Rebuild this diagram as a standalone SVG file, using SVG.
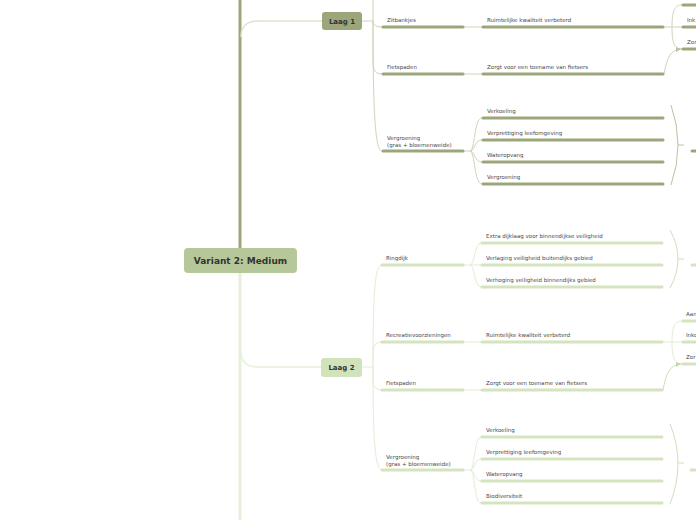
<svg xmlns="http://www.w3.org/2000/svg" width="696" height="520" viewBox="0 0 696 520">
<defs>
<style>
.t{font-family:"DejaVu Sans","Liberation Sans",sans-serif;font-size:5.5px;fill:#4a4a4a}
.h{font-family:"DejaVu Sans","Liberation Sans",sans-serif;font-weight:bold;fill:#333;text-anchor:middle}
.u1{stroke:#9ba77b;stroke-width:3;stroke-linecap:round;fill:none}
.u2{stroke:#d4e4bf;stroke-width:3;stroke-linecap:round;fill:none}
.c1{stroke:#cdd5bb;stroke-width:1;fill:none}
.c2{stroke:#e2edd4;stroke-width:1;fill:none}
.b1{stroke:#b8c49c;stroke-width:1;fill:none}
.b2{stroke:#cfe0b8;stroke-width:1;fill:none}
</style>
<marker id="a1" markerWidth="6" markerHeight="6" refX="5" refY="3" orient="auto" markerUnits="userSpaceOnUse"><path d="M0,0.5 L5,3 L0,5.5 Z" fill="#b8c49c"/></marker>
<marker id="a2" markerWidth="6" markerHeight="6" refX="5" refY="3" orient="auto" markerUnits="userSpaceOnUse"><path d="M0,0.5 L5,3 L0,5.5 Z" fill="#c4d8a8"/></marker>
</defs>
<rect width="696" height="520" fill="#fff"/>

<g id="connectors">
<!-- trunk -->
<line x1="240" y1="0" x2="240" y2="249" stroke="#9ba77b" stroke-width="3"/>
<line x1="240" y1="272" x2="240" y2="520" stroke="#e6f0da" stroke-width="3"/>
<path d="M241,37 Q241,21 258,21 L322,21" stroke="#dde4cf" stroke-width="1.5" fill="none"/>
<path d="M241,351 Q241,367 258,367 L321,367" stroke="#e6f0da" stroke-width="1.5" fill="none"/>

<!-- Laag 1 -->
<path class="c1" d="M362,21 L373,21"/>
<path class="c1" d="M373,0 L373,21"/>
<path class="c1" d="M373,21 Q373,27 382,27"/>
<path class="c1" d="M373,21 L373,64 Q373,74 382,74"/>
<path class="c1" d="M373,21 C373,110 375,151 382,151"/>
<path class="c1" d="M464,27 L482,27"/>
<path class="c1" d="M464,74 L482,74"/>
<path class="c1" d="M664,27 L672,27"/>
<path class="c1" d="M672,27 C672,10 675,5 682,5"/>
<path class="c1" d="M672,27 L682,27"/>
<path class="c1" d="M672,27 C672,44 675,49 682,49"/>
<path class="c1" d="M664,74 C667,58 670,50 681,49" marker-end="url(#a1)"/>
<path class="c1" d="M464,151 L472,151"/>
<path class="c1" d="M470,151 C475,151 474,118 482,118"/>
<path class="c1" d="M470,151 C475,151 474,140 482,140"/>
<path class="c1" d="M470,151 C475,151 474,162 482,162"/>
<path class="c1" d="M470,151 C475,151 474,184 482,184"/>
<path class="b1" d="M671,105 Q685,145 671,185"/>
<path class="b1" d="M678,145 L684,145"/>

<!-- Laag 2 -->
<path class="c2" d="M362,367 L373,367"/>
<path class="c2" d="M373,367 C373,290 375,265 382,265"/>
<path class="c2" d="M373,367 L373,351 Q373,342 382,342"/>
<path class="c2" d="M373,367 L373,381 Q373,390 382,390"/>
<path class="c2" d="M373,367 C373,440 375,470 382,470"/>
<path class="c2" d="M464,265 L472,265"/>
<path class="c2" d="M470,265 C475,265 474,243 481,243"/>
<path class="c2" d="M470,265 L481,265"/>
<path class="c2" d="M470,265 C475,265 474,287 481,287"/>
<path class="b2" d="M670,230 Q686,259 670,288"/>
<path class="b2" d="M678,259 L684,259"/>
<path class="c2" d="M464,342 L481,342"/>
<path class="c2" d="M663,342 L672,342"/>
<path class="c2" d="M672,342 C672,326 675,321 682,321"/>
<path class="c2" d="M672,342 L682,342"/>
<path class="c2" d="M672,342 C672,359 675,364 682,364"/>
<path class="c2" d="M464,390 L481,390"/>
<path class="b2" d="M663,390 C666,374 669,365 681,364" marker-end="url(#a2)"/>
<path class="c2" d="M464,470 L472,470"/>
<path class="c2" d="M470,470 C475,470 474,437 481,437"/>
<path class="c2" d="M470,470 C475,470 474,459 481,459"/>
<path class="c2" d="M470,470 C475,470 474,481 481,481"/>
<path class="c2" d="M470,470 C475,470 474,503 481,503"/>
<path class="b2" d="M670,424 Q686,463 670,504"/>
<path class="b2" d="M678,463 L684,463"/>
</g>

<g id="central">
<rect x="184" y="248" width="113" height="25" rx="4" fill="#b6c899"/>
<text class="h" x="240.5" y="264.3" font-size="9">Variant 2: Medium</text>
</g>

<g id="laag1">
<rect x="322" y="12" width="40" height="18" rx="3" fill="#9ba77b"/>
<text class="h" x="342" y="23.8" font-size="7">Laag 1</text>
</g>
<g id="l1-zitbankjes"><path class="u1" d="M383,27 H463"/><text class="t" x="387" y="22">Zitbankjes</text></g>
<g id="l1-ruimtelijk"><path class="u1" d="M483,27 H663"/><text class="t" x="487" y="22">Ruimtelijke kwaliteit verbeterd</text></g>
<g id="l1-r-top"><path class="u1" d="M683,5 H700"/></g>
<g id="l1-r-ink"><path class="u1" d="M683,27 H700"/><text class="t" x="687" y="22">Ink</text></g>
<g id="l1-r-zor"><path class="u1" d="M683,49 H700"/><text class="t" x="687" y="44">Zor</text></g>
<g id="l1-fietspaden"><path class="u1" d="M383,74 H463"/><text class="t" x="387" y="69">Fietspaden</text></g>
<g id="l1-fietsers"><path class="u1" d="M483,74 H663"/><text class="t" x="487" y="69">Zorgt voor een toename van fietsers</text></g>
<g id="l1-vergroening"><path class="u1" d="M383,151 H463"/><text class="t" x="387" y="140">Vergroening</text><text class="t" x="387" y="146.5">(gras + bloemenweide)</text></g>
<g id="l1-verkoeling"><path class="u1" d="M483,118 H663"/><text class="t" x="487" y="113">Verkoeling</text></g>
<g id="l1-verpretting"><path class="u1" d="M483,140 H663"/><text class="t" x="487" y="135">Verprettiging leefomgeving</text></g>
<g id="l1-wateropvang"><path class="u1" d="M483,162 H663"/><text class="t" x="487" y="157">Wateropvang</text></g>
<g id="l1-vergroening2"><path class="u1" d="M483,184 H663"/><text class="t" x="487" y="179">Vergroening</text></g>
<g id="l1-summary"><path class="u1" d="M692,151 H700"/></g>

<g id="laag2">
<rect x="321" y="358" width="41" height="19" rx="3" fill="#d2e2bb"/>
<text class="h" x="341.5" y="370.3" font-size="7">Laag 2</text>
</g>
<g id="l2-ringdijk"><path class="u2" d="M382,265 H463"/><text class="t" x="386" y="260">Ringdijk</text></g>
<g id="l2-extra"><path class="u2" d="M482,243 H662"/><text class="t" x="486" y="238">Extra dijklaag voor binnendijkse veiligheid</text></g>
<g id="l2-verlaging"><path class="u2" d="M482,265 H662"/><text class="t" x="486" y="260">Verlaging veiligheid buitendijks gebied</text></g>
<g id="l2-verhoging"><path class="u2" d="M482,287 H662"/><text class="t" x="486" y="282">Verhoging veiligheid binnendijks gebied</text></g>
<g id="l2-ring-summary"><path class="u2" d="M692,265 H700"/></g>
<g id="l2-recreatie"><path class="u2" d="M382,342 H463"/><text class="t" x="386" y="337">Recreatievoorzieningen</text></g>
<g id="l2-ruimtelijk"><path class="u2" d="M482,342 H662"/><text class="t" x="486" y="337">Ruimtelijke kwaliteit verbeterd</text></g>
<g id="l2-r-aan"><path class="u2" d="M683,321 H700"/><text class="t" x="686" y="316">Aan</text></g>
<g id="l2-r-inko"><path class="u2" d="M683,342 H700"/><text class="t" x="686" y="337">Inko</text></g>
<g id="l2-r-zor"><path class="u2" d="M683,364 H700"/><text class="t" x="686" y="359">Zor</text></g>
<g id="l2-fietspaden"><path class="u2" d="M382,390 H463"/><text class="t" x="386" y="385">Fietspaden</text></g>
<g id="l2-fietsers"><path class="u2" d="M482,390 H662"/><text class="t" x="486" y="385">Zorgt voor een toename van fietsers</text></g>
<g id="l2-vergroening"><path class="u2" d="M382,470 H463"/><text class="t" x="386" y="459">Vergroening</text><text class="t" x="386" y="465.5">(gras + bloemenweide)</text></g>
<g id="l2-verkoeling"><path class="u2" d="M482,437 H662"/><text class="t" x="486" y="432">Verkoeling</text></g>
<g id="l2-verpretting"><path class="u2" d="M482,459 H662"/><text class="t" x="486" y="454">Verprettiging leefomgeving</text></g>
<g id="l2-wateropvang"><path class="u2" d="M482,481 H662"/><text class="t" x="486" y="476">Wateropvang</text></g>
<g id="l2-biodiversiteit"><path class="u2" d="M482,503 H662"/><text class="t" x="486" y="498">Biodiversiteit</text></g>
<g id="l2-verg-summary"><path class="u2" d="M691,470 H700"/></g>
</svg>
